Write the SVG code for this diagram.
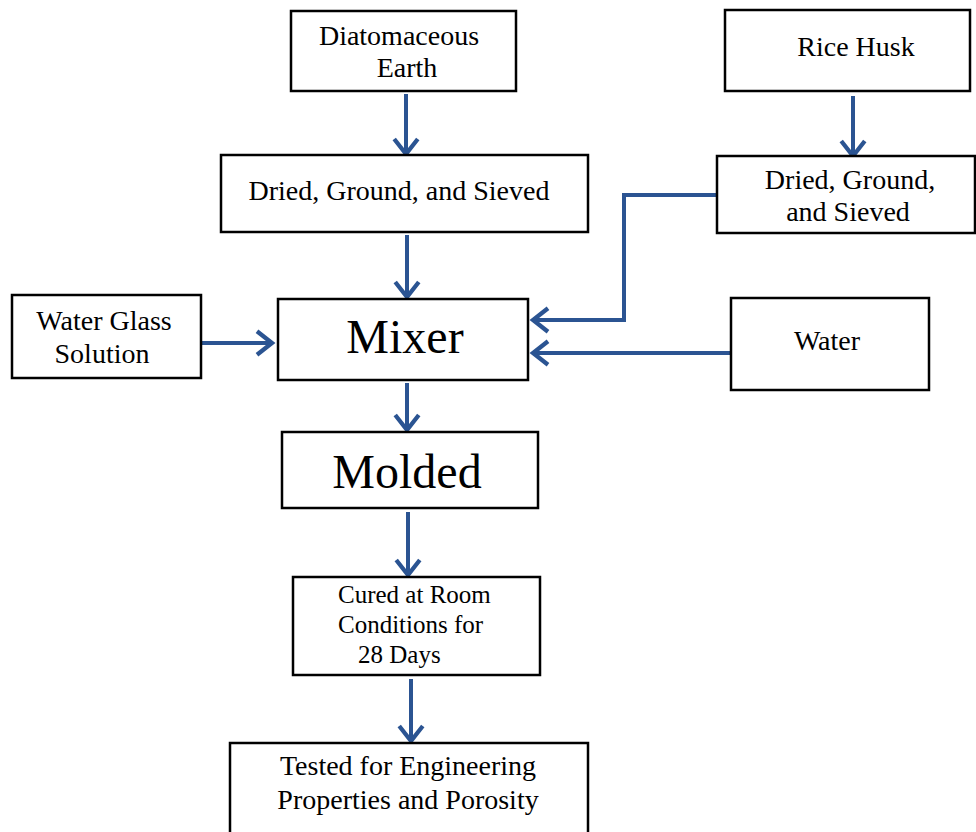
<svg xmlns="http://www.w3.org/2000/svg" width="976" height="832" viewBox="0 0 976 832">
<style>
.box{fill:#fff;stroke:#000;stroke-width:2.5}
.t{font-family:"Liberation Serif","Times New Roman",serif;font-size:28px;fill:#000}
.c{text-anchor:middle}
.big{font-size:48px}
.sm{font-size:25px}
.con{fill:none;stroke:#2B5492;stroke-width:4}
</style>
<defs>
<marker id="ah" markerUnits="userSpaceOnUse" markerWidth="30" markerHeight="30" viewBox="-16 -14 20 28" refX="0" refY="0" orient="auto">
<path d="M-14,-11 L0,0 L-14,11" fill="none" stroke="#2B5492" stroke-width="4"/>
</marker>
</defs>
<rect width="976" height="832" fill="#fff"/>
<g id="connectors">
<line class="con" x1="406" y1="94" x2="406" y2="154" marker-end="url(#ah)"/>
<line class="con" x1="853" y1="96" x2="853" y2="156" marker-end="url(#ah)"/>
<line class="con" x1="407" y1="235" x2="407" y2="297" marker-end="url(#ah)"/>
<line class="con" x1="201" y1="343" x2="272" y2="343" marker-end="url(#ah)"/>
<polyline class="con" points="717,195 624,195 624,320 533,320" marker-end="url(#ah)"/>
<line class="con" x1="731" y1="353" x2="533" y2="353" marker-end="url(#ah)"/>
<line class="con" x1="407" y1="383" x2="407" y2="430" marker-end="url(#ah)"/>
<line class="con" x1="408" y1="512" x2="408" y2="575" marker-end="url(#ah)"/>
<line class="con" x1="411" y1="679" x2="411" y2="741" marker-end="url(#ah)"/>
</g>
<g id="diatomaceous">
<rect class="box" x="291" y="11" width="225" height="80"/>
<text class="t c" x="399" y="45">Diatomaceous</text>
<text class="t c" x="407" y="77">Earth</text>
</g>
<g id="rice-husk">
<rect class="box" x="725" y="10" width="245" height="81"/>
<text class="t c" x="856" y="56">Rice Husk</text>
</g>
<g id="dried-left">
<rect class="box" x="221" y="155" width="367" height="77"/>
<text class="t c" x="399" y="200">Dried, Ground, and Sieved</text>
</g>
<g id="dried-right">
<rect class="box" x="717" y="156" width="258" height="77"/>
<text class="t c" x="850" y="189">Dried, Ground,</text>
<text class="t c" x="848" y="221">and Sieved</text>
</g>
<g id="water-glass">
<rect class="box" x="12" y="295" width="189" height="83"/>
<text class="t c" x="104" y="330">Water Glass</text>
<text class="t c" x="102" y="363">Solution</text>
</g>
<g id="mixer">
<rect class="box" x="278" y="299" width="250" height="81"/>
<text class="t c big" x="405" y="353">Mixer</text>
</g>
<g id="water">
<rect class="box" x="731" y="298" width="198" height="92"/>
<text class="t c" x="827" y="350">Water</text>
</g>
<g id="molded">
<rect class="box" x="282" y="432" width="256" height="76"/>
<text class="t c big" x="407" y="488">Molded</text>
</g>
<g id="cured">
<rect class="box" x="293" y="577" width="247" height="98"/>
<text class="t sm" x="338" y="603">Cured at Room</text>
<text class="t sm" x="338" y="633">Conditions for</text>
<text class="t sm" x="358" y="663">28 Days</text>
</g>
<g id="tested">
<rect class="box" x="230" y="743" width="358" height="100"/>
<text class="t c" x="408" y="775">Tested for Engineering</text>
<text class="t c" x="408" y="809">Properties and Porosity</text>
</g>
</svg>
